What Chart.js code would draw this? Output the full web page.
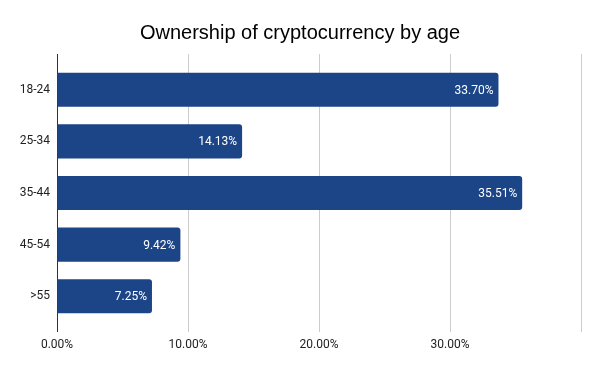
<!DOCTYPE html>
<html>
<head>
<meta charset="utf-8">
<script src="https://cdn.jsdelivr.net/npm/chart.js@4"></script>
<style>
  body { margin: 0; background: #fff; }
  #wrap { width: 600px; height: 371px; }
</style>
</head>
<body>
<div id="wrap"><canvas id="Chart" width="600" height="371"></canvas></div>
<script>
const ages = ['18-24', '25-34', '35-44', '45-54', '>55'];
const shares = [33.70, 14.13, 35.51, 9.42, 7.25];
const xTicks = [0, 10, 20, 30, 40];

// подписи значений внутри столбцов
const barLabels = {
    id: 'barLabels',
    afterDatasetsDraw(chart) {
        const c = chart.ctx;
        const meta = chart.getDatasetMeta(0);
        c.save();
        c.font = '12px Roboto';
        c.fillStyle = '#ffffff';
        c.textAlign = 'right';
        c.textBaseline = 'middle';
        meta.data.forEach((bar, i) => {
            c.fillText(shares[i].toFixed(2) + '%', bar.x - 5, bar.y + 1);
        });
        c.restore();
    }
};

const gridColor = (ctx) => (ctx.tick && ctx.tick.value === 0) ? '#333333' : '#cccccc';

const canvas = document.getElementById('Chart');
const ctx = canvas.getContext('2d');
const chart = new Chart(ctx, {
    type: 'bar',
    data: {
        labels: ages,
        datasets: [{
            label: 'Ownership',
            data: shares,
            backgroundColor: '#1c4587',
            borderRadius: 3,
            borderSkipped: 'start',
            barPercentage: 0.66,
            categoryPercentage: 1
        }]
    },
    options: {
        indexAxis: 'y',
        responsive: false,
        animation: false,
        layout: { padding: { left: 19, right: 19, top: 0, bottom: 0 } },
        plugins: {
            legend: { display: false },
            tooltip: { enabled: false },
            title: {
                display: true,
                text: 'Ownership of cryptocurrency by age',
                color: '#000000',
                font: { family: 'Arial', size: 20, weight: 'normal', lineHeight: 1.2 },
                padding: { top: 21, bottom: 9 }
            }
        },
        scales: {
            x: {
                position: 'bottom',
                min: 0,
                max: 40,
                afterBuildTicks: (s) => { s.ticks = xTicks.map(v => ({ value: v })); },
                afterFit: (s) => { s.height = 49; },
                border: { display: false },
                grid: { color: gridColor, lineWidth: 1, drawTicks: true, tickLength: 10 },
                ticks: {
                    padding: 6,
                    color: '#222222',
                    font: { family: 'Roboto', size: 12 },
                    maxRotation: 0,
                    callback: (v) => v === 40 ? '' : v.toFixed(2) + '%'
                }
            },
            x2: {
                axis: 'x',
                position: 'top',
                min: 0,
                max: 40,
                afterBuildTicks: (s) => { s.ticks = xTicks.map(v => ({ value: v })); },
                afterFit: (s) => { s.height = 10; },
                border: { display: false },
                grid: { color: gridColor, lineWidth: 1, drawOnChartArea: false, drawTicks: true, tickLength: 10 },
                ticks: { display: false }
            },
            y: {
                afterFit: (s) => { s.width = 38; },
                border: { display: false },
                grid: { display: false, drawTicks: false },
                ticks: {
                    padding: 7,
                    color: '#222222',
                    font: { family: 'Roboto', size: 12 }
                }
            }
        }
    },
    plugins: [barLabels]
});
</script>
</body>
</html>
